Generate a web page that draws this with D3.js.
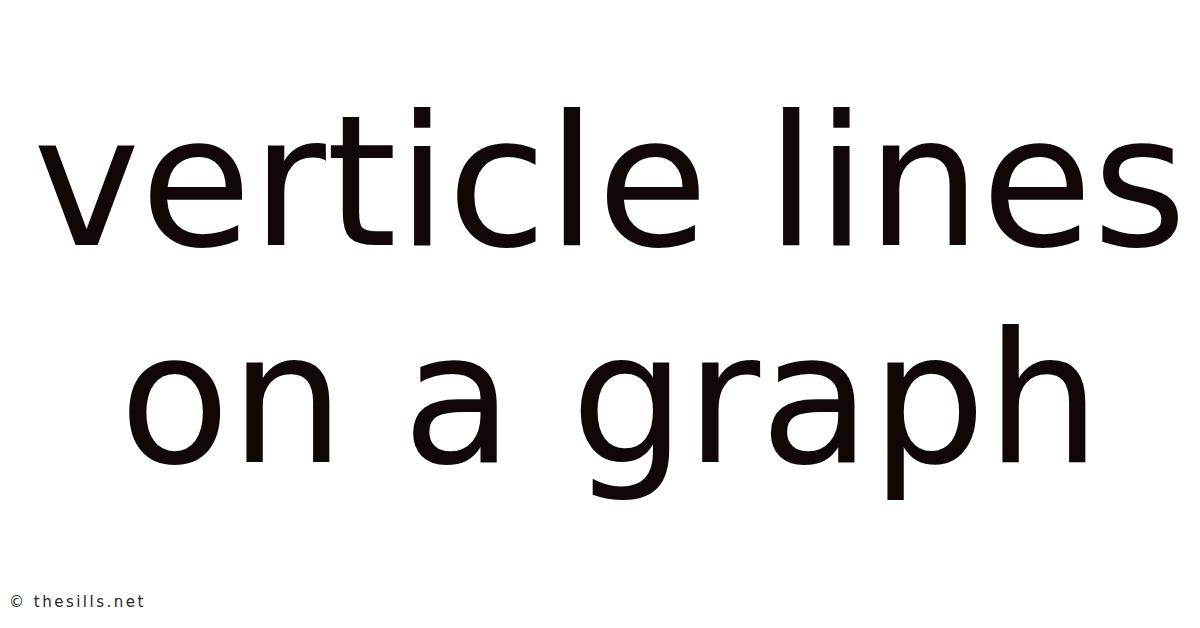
<!DOCTYPE html>
<html>
<head>
<meta charset="utf-8">
<script src="https://cdn.jsdelivr.net/npm/d3@7"></script>
<style>
  html, body { margin: 0; padding: 0; background: #fff; }
  svg { display: block; }
</style>
</head>
<body>
<svg id="chart"></svg>
<script>
// title lines and footer text
const titleLines = ["verticle lines", "on a graph"];
const footerText = "© thesills.net";

const width = 1200, height = 628;

const svg = d3.select("#chart")
  .attr("width", width)
  .attr("height", height);

svg.append("rect")
  .attr("width", width)
  .attr("height", height)
  .attr("fill", "#ffffff");

// baseline per line
const yScale = d3.scaleLinear()
  .domain([0, titleLines.length - 1])
  .range([245, 462]);

svg.selectAll("text.title")
  .data(titleLines)
  .join("text")
  .attr("class", "title")
  .attr("x", 610)
  .attr("y", (d, i) => yScale(i))
  .attr("text-anchor", "middle")
  .style("font-family", "'DejaVu Sans', sans-serif")
  .style("font-size", "181px")
  .style("fill", "#120707")
  .text(d => d);

svg.append("text")
  .attr("x", 9)
  .attr("y", 607)
  .style("font-family", "'DejaVu Sans', sans-serif")
  .style("font-size", "15px")
  .style("letter-spacing", "2.5px")
  .style("fill", "#262626")
  .text(footerText);
</script>
</body>
</html>
